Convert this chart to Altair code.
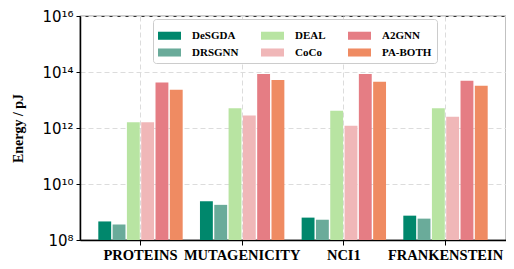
import altair as alt
import pandas as pd

datasets = ["PROTEINS", "MUTAGENICITY", "NCI1", "FRANKENSTEIN"]
methods = ["DeSGDA", "DRSGNN", "DEAL", "CoCo", "A2GNN", "PA-BOTH"]
colors = ["#00876c", "#6aab9a", "#b8e4a2", "#f0b7b8", "#e57d84", "#ef8b62"]

desgda = [4.6e8, 2.4e9, 6.3e8, 7.4e8]
drsgnn = [3.6e8, 1.8e9, 5.3e8, 5.8e8]
deal = [1.6e12, 5.1e12, 4.1e12, 5.1e12]
coco = [1.6e12, 2.8e12, 1.2e12, 2.5e12]
a2gnn = [4.2e13, 8.5e13, 8.5e13, 4.9e13]
paboth = [2.3e13, 5.2e13, 4.5e13, 3.2e13]

series = [desgda, drsgnn, deal, coco, a2gnn, paboth]
rows = []
for m, vals in zip(methods, series):
    for d, v in zip(datasets, vals):
        rows.append({"dataset": d, "method": m, "energy": v})
df = pd.DataFrame(rows)

label_expr = ("datum.value == 1e8 ? '10⁸' : datum.value == 1e10 ? '10¹⁰' : "
              "datum.value == 1e12 ? '10¹²' : datum.value == 1e14 ? '10¹⁴' : '10¹⁶'")

chart = alt.Chart(df).mark_bar().encode(
    x=alt.X("dataset:N", sort=datasets,
            scale=alt.Scale(paddingInner=0.17, paddingOuter=0.18),
            axis=alt.Axis(title=None, labelAngle=0, labelFont="Liberation Serif",
                          labelFontWeight="bold", labelFontSize=14.5, labelColor="black",
                          labelPadding=3, tickSize=5, tickColor="black",
                          domainColor="black", domainWidth=1.5,
                          grid=True, gridDash=[5, 3], gridColor="#dcdcdc")),
    xOffset=alt.XOffset("method:N", sort=methods,
                        scale=alt.Scale(paddingInner=0.1, paddingOuter=0)),
    y=alt.Y("energy:Q",
            scale=alt.Scale(type="log", domain=[1e8, 1e16], nice=False),
            axis=alt.Axis(title="Energy / pJ", titleFont="Liberation Serif",
                          titleFontWeight="bold", titleFontSize=14, titleColor="black",
                          titlePadding=16,
                          values=[1e8, 1e10, 1e12, 1e14, 1e16], labelExpr=label_expr,
                          labelFont="DejaVu Sans", labelFontSize=15, labelColor="black",
                          labelPadding=3, tickSize=4, tickColor="black",
                          domainColor="black", domainWidth=1.5,
                          grid=True, gridDash=[5, 3], gridColor="#dcdcdc")),
    y2=alt.datum(1e8),
    color=alt.Color("method:N",
                    scale=alt.Scale(domain=methods, range=colors),
                    legend=alt.Legend(title=None, orient="none", legendX=73, legendY=3,
                                      columns=3, columnPadding=22, rowPadding=0,
                                      symbolType="M-1,-0.35H1V0.35H-1Z", symbolSize=529,
                                      symbolStrokeWidth=0, labelOffset=11,
                                      labelFont="Liberation Serif", labelFontWeight="bold",
                                      labelFontSize=11, labelColor="black",
                                      fillColor="white", strokeColor="#cccccc",
                                      cornerRadius=3, padding=5)),
).properties(
    width=426, height=224,
    autosize=alt.AutoSizeParams(type="none"),
    padding={"left": 72, "top": 8, "right": 0, "bottom": 29}
).configure_view(
    stroke="#333333", strokeWidth=1.2
)

chart.save("out.html", embed_options={"renderer": "svg", "actions": False})
